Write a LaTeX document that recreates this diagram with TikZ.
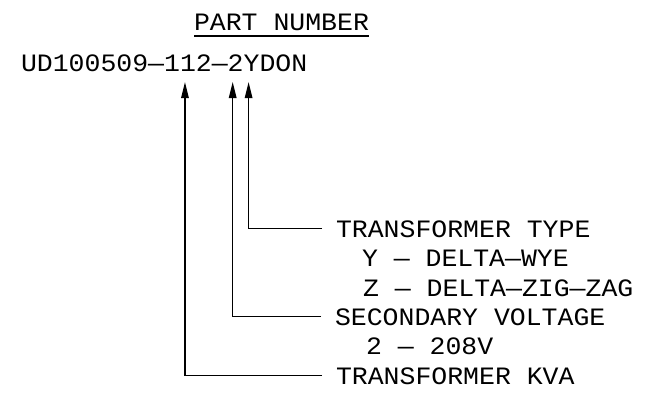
\documentclass[tikz,border=0pt]{standalone}
\usepackage{fontspec}
\newfontfamily\cadfont[FakeStretch=1.06]{Liberation Mono}
\usetikzlibrary{arrows.meta}
\begin{document}
\begin{tikzpicture}[x=1pt,y=-1pt,
  txt/.style={inner sep=0pt, outer sep=0pt, anchor=base west, font=\cadfont\fontsize{25}{30}\selectfont},
  ptr/.style={line width=1.4pt, -{Triangle[length=16pt,width=7.5pt]}},
  uline/.style={line width=1.4pt}]
\useasboundingbox[fill=white] (0,0) rectangle (653,402);
% title
\node[txt] (title) at (194,30) {PART NUMBER};
\draw[uline] ([yshift=-6pt]title.base west) -- ([yshift=-6pt]title.base east);
% part number, split at the pointed characters
\node[txt] (pa) at (21,71) {UD100509—1};
\node[txt] (pb) at (pa.base east) {1};
\node[txt] (pc) at (pb.base east) {2—};
\node[txt] (pd) at (pc.base east) {2};
\node[txt] (pe) at (pd.base east) {Y};
\node[txt] (pf) at (pe.base east) {DON};
% labels
\node[txt] (ltype) at (336,237) {TRANSFORMER TYPE};
\node[txt] (lwye) at (362,266) {Y — DELTA—WYE};
\node[txt] (lzig) at (363,296) {Z — DELTA—ZIG—ZAG};
\node[txt] (lsec) at (335,325) {SECONDARY VOLTAGE};
\node[txt] (lvolt) at (366,354) {2 — 208V};
\node[txt] (lkva) at (336,384) {TRANSFORMER KVA};
% leaders
\draw[ptr] ([xshift=-14pt]ltype.west) -| ([xshift=-3pt,yshift=-11pt]pe.base);
\draw[ptr] ([xshift=-14pt]lsec.west) -| ([xshift=-3pt,yshift=-11pt]pd.base);
\draw[ptr] ([xshift=-14pt]lkva.west) -| ([xshift=-3pt,yshift=-11pt]pb.base);
\end{tikzpicture}
\end{document}
